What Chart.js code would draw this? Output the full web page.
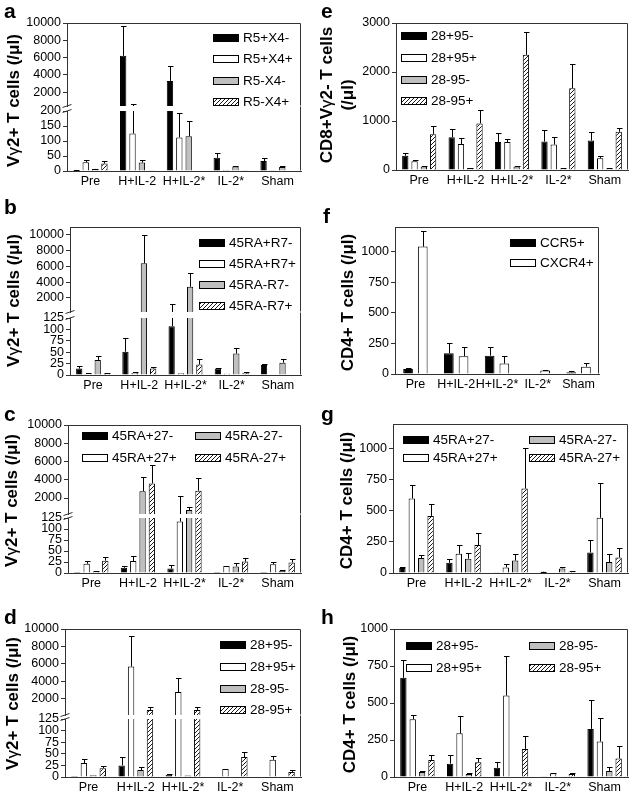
<!DOCTYPE html>
<html>
<head>
<meta charset="utf-8">
<script src="https://cdn.jsdelivr.net/npm/chart.js@4.4.1/dist/chart.umd.min.js"></script>
<style>
body { margin: 0; background: #fff; }
#fig { position: relative; width: 632px; height: 796px; overflow: hidden; font-family: 'Liberation Sans', Arial, sans-serif; }
#fig canvas { position: absolute; left: 0; top: 0; }
.lt { position: absolute; font-weight: bold; font-size: 21px; line-height: 1; }
.yt { position: absolute; width: 240px; text-align: center; font-weight: bold; font-size: 17px; line-height: 21px; transform: rotate(-90deg); white-space: nowrap; }
</style>
</head>
<body>
<div id="fig"></div>
<script>
// categorias comunes a todos los paneles
const categories = ['Pre', 'H+IL-2', 'H+IL-2*', 'IL-2*', 'Sham'];

// ticks
const bigTicks = [2000, 4000, 6000, 8000, 10000];
const aLowTicks = [0, 50, 100, 150, 200];
const lowTicks = [0, 25, 50, 75, 100, 125];
const eTicks = [0, 1000, 2000, 3000];
const cd4Ticks = [0, 250, 500, 750, 1000];

// panel a
const aSeries = ['R5+X4-', 'R5+X4+', 'R5-X4-', 'R5-X4+'];
const aMeans = [[3, 6200, 3300, 44, 33], [29, 125, 112, 3, 1], [7, 28, 116, 15, 13], [25, 1, 2, 1, 0]];
const aErrs = [[1, 3500, 1700, 15, 10], [9, 500, 83, 0, 0], [1, 10, 52, 1, 3], [10, 0, 0, 0, 0]];

// panel b
const bSeries = ['45RA+R7-', '45RA+R7+', '45RA-R7-', '45RA-R7+'];
const bMeans = [[14, 51, 107, 14, 22], [3, 5, 4, 3, 0], [33, 6400, 3400, 47, 27], [4, 14, 23, 5, 0]];
const bErrs = [[5, 30, 1100, 2, 3], [1, 1, 0, 0, 0], [9, 3600, 1800, 12, 9], [1, 4, 13, 1, 0]];

// panel c
const cSeries = ['45RA+27-', '45RA+27+', '45RA-27-', '45RA-27+'];
const cMeans = [[2, 12, 10, 2, 2], [21, 27, 117, 16, 20], [4, 2750, 680, 15, 5], [28, 3600, 2800, 26, 24]];
const cErrs = [[0, 5, 9, 0, 0], [6, 11, 2100, 0, 4], [1, 1500, 350, 7, 1], [9, 2000, 1400, 8, 7]];

// panel d
const dSeries = ['28+95-', '28+95+', '28-95-', '28-95+'];
const dMeans = [[2, 25, 5, 0, 1], [30, 5700, 2800, 17, 37], [4, 15, 3, 0, 1], [19, 750, 750, 43, 11]];
const dErrs = [[0, 18, 1, 0, 0], [8, 3500, 1650, 0, 8], [0, 6, 0, 0, 0], [4, 280, 280, 11, 5]];

// panel e
const eMeans = [[290, 670, 570, 580, 600], [180, 530, 570, 520, 240], [70, 40, 70, 30, 35], [730, 950, 2350, 1670, 780]];
const eErrs = [[55, 160, 180, 240, 170], [20, 120, 70, 150, 40], [15, 5, 20, 5, 5], [160, 270, 460, 490, 80]];

// panel f
const fSeries = ['CCR5+', 'CXCR4+'];
const fMeans = [[40, 170, 150, 5, 15], [1040, 145, 85, 28, 60]];
const fErrs = [[8, 80, 72, 0, 10], [130, 75, 65, 7, 28]];

// panel g
const gMeans = [[40, 82, 3, 10, 165], [600, 155, 45, 2, 445], [120, 115, 100, 37, 88], [460, 225, 680, 12, 125]];
const gErrs = [[10, 30, 0, 2, 100], [110, 70, 25, 0, 280], [25, 50, 50, 15, 62], [95, 95, 330, 2, 75]];

// panel h
const hMeans = [[670, 90, 62, 2, 325], [390, 295, 550, 25, 240], [33, 20, 3, 0, 40], [115, 100, 190, 20, 125]];
const hErrs = [[120, 60, 38, 0, 195], [30, 115, 270, 3, 160], [5, 5, 0, 0, 25], [35, 30, 90, 5, 85]];

const W = 632, H = 796;
const AXIS = '#333';
const XH = 22; // alto del eje x
const fig = document.getElementById('fig');

Chart.defaults.font.family = "'Liberation Sans', Arial, sans-serif";
Chart.defaults.font.size = 12.5;
Chart.defaults.color = '#000';

// rayado diagonal para la 4a serie
function hatch() {
	const c = document.createElement('canvas');
	c.width = 4; c.height = 4;
	const x = c.getContext('2d');
	x.fillStyle = '#fff';
	x.fillRect(0, 0, 4, 4);
	x.strokeStyle = '#000';
	x.lineWidth = 0.9;
	x.beginPath();
	x.moveTo(0, 4); x.lineTo(4, 0);
	x.moveTo(-1, 1); x.lineTo(1, -1);
	x.moveTo(3, 5); x.lineTo(5, 3);
	x.stroke();
	return x.createPattern(c, 'repeat');
}
const fills = ['#000000', '#ffffff', '#bfbfbf', hatch()];

// barras de error (solo hacia arriba, con tope)
const errPlugin = {
	id: 'errBars',
	afterDatasetsDraw(chart) {
		const { ctx, chartArea: a } = chart;
		const ys = chart.scales.y;
		ctx.save();
		ctx.beginPath();
		ctx.rect(a.left, a.top, a.right - a.left, a.bottom - a.top);
		ctx.clip();
		ctx.strokeStyle = '#000';
		ctx.lineWidth = 1;
		chart.data.datasets.forEach((ds, i) => {
			chart.getDatasetMeta(i).data.forEach((bar, j) => {
				const e = ds.errs[j];
				if (!e) return;
				const x = Math.round(bar.x) + 0.5;
				const base = ys.getPixelForValue(ds.data[j]);
				const top = Math.round(ys.getPixelForValue(ds.data[j] + e)) + 0.5;
				ctx.beginPath();
				ctx.moveTo(x, base);
				ctx.lineTo(x, top);
				ctx.moveTo(x - 2.5, top);
				ctx.lineTo(x + 3, top);
				ctx.stroke();
			});
		});
		ctx.restore();
	}
};

// marco superior/derecho y marcas de corte del eje
const framePlugin = {
	id: 'frame',
	afterDraw(chart, args, opts) {
		const { ctx, chartArea: a } = chart;
		const l = Math.round(a.left) + 0.5, r = Math.round(a.right) - 0.5;
		const t = Math.round(a.top) + 0.5, b = Math.round(a.bottom) - 0.5;
		ctx.save();
		ctx.strokeStyle = AXIS;
		ctx.lineWidth = 1;
		ctx.beginPath();
		if (opts.top) { ctx.moveTo(l, t); ctx.lineTo(r, t); }
		ctx.moveTo(r, t - (opts.extendUp || 0));
		ctx.lineTo(r, b);
		if (opts.breakBottom) { ctx.moveTo(l - 5, b + 2); ctx.lineTo(l + 4, b - 1); }
		if (opts.breakTop) { ctx.moveTo(l - 5, t + 1); ctx.lineTo(l + 4, t - 2); }
		ctx.stroke();
		ctx.restore();
	}
};

// leyenda con cajas anchas dentro del area
const legendPlugin = {
	id: 'boxLegend',
	afterDraw(chart, args, opts) {
		if (!opts.items) return;
		const ctx = chart.ctx;
		ctx.save();
		ctx.font = "13.5px 'Liberation Sans', Arial, sans-serif";
		ctx.textBaseline = 'middle';
		opts.items.forEach((p, i) => {
			const ds = chart.data.datasets[i];
			const y = Math.round(p[1] - 3.5);
			ctx.fillStyle = ds.backgroundColor;
			ctx.fillRect(p[0], y, 26, 7);
			ctx.strokeStyle = '#000';
			ctx.lineWidth = 1;
			ctx.strokeRect(p[0] + 0.5, y + 0.5, 25, 7);
			ctx.fillStyle = '#000';
			ctx.fillText(ds.label, p[0] + 30, p[1] + 1);
		});
		ctx.restore();
	}
};

function addCanvas() {
	const c = document.createElement('canvas');
	c.width = W; c.height = H;
	fig.appendChild(c);
	return c;
}

function makeChart(box, yMin, yMax, ticks, series, means, errs, opt) {
	const datasets = series.map((name, i) => ({
		label: name,
		data: means[i],
		errs: errs[i],
		backgroundColor: fills[i],
		borderColor: '#000',
		borderWidth: 1,
		clip: 0
	}));
	return new Chart(addCanvas(), {
		type: 'bar',
		data: { labels: categories, datasets: datasets },
		options: {
			responsive: false,
			animation: false,
			devicePixelRatio: 1,
			events: [],
			categoryPercentage: opt.catPct || 0.8,
			barPercentage: opt.barPct || 0.68,
			layout: {
				padding: {
					left: box.L - 50,
					right: W - box.R,
					top: box.T,
					bottom: opt.xAxis ? H - box.B - XH : H - box.B
				}
			},
			scales: {
				x: {
					display: !!opt.xAxis,
					grid: { display: false, drawTicks: false },
					border: { display: true, color: AXIS, width: 1 },
					ticks: { padding: 3, maxRotation: 0, autoSkip: false, color: '#000' },
					afterFit: s => { if (opt.xAxis) s.height = XH; }
				},
				y: {
					min: yMin,
					max: yMax,
					afterFit: s => { s.width = 50; },
					afterBuildTicks: s => { s.ticks = ticks.map(v => ({ value: v })); },
					ticks: { callback: v => String(v), padding: 2, color: '#000', autoSkip: false },
					grid: { display: true, drawOnChartArea: false, drawTicks: true, tickLength: 4, color: AXIS },
					border: { display: true, color: AXIS, width: 1 }
				}
			},
			plugins: {
				legend: { display: false },
				tooltip: { enabled: false },
				frame: { top: !!opt.top, extendUp: opt.extendUp || 0, breakTop: !!opt.breakTop, breakBottom: !!opt.breakBottom },
				boxLegend: { items: opt.legend || null }
			}
		},
		plugins: [errPlugin, framePlugin, legendPlugin]
	});
}

// panel con eje cortado: dos graficos, arriba y abajo
function brokenPanel(p, series, means, errs, upTicks, lowTicks2) {
	makeChart({ L: p.L, R: p.R, T: p.T, B: p.ub }, p.upMin, p.upMax, upTicks, series, means, errs,
		{ xAxis: false, top: true, breakBottom: true, legend: p.legend });
	makeChart({ L: p.L, R: p.R, T: p.lt, B: p.B }, 0, p.lowMax, lowTicks2, series, means, errs,
		{ xAxis: true, breakTop: true, extendUp: p.lt - p.ub });
}

function plainPanel(p, series, means, errs, ticks) {
	makeChart({ L: p.L, R: p.R, T: p.T, B: p.B }, 0, p.max, ticks, series, means, errs,
		{ xAxis: true, top: true, legend: p.legend, catPct: p.catPct, barPct: p.barPct });
}

function text(cls, html, left, top) {
	const d = document.createElement('div');
	d.className = cls;
	d.innerHTML = html;
	d.style.left = left + 'px';
	d.style.top = top + 'px';
	fig.appendChild(d);
}

function yTitle(html, cx, cy, lines) {
	const h = 21 * (lines || 1);
	text('yt', html, cx - 120, cy - h / 2);
}

brokenPanel({ L: 67, R: 301, T: 23, ub: 106, lt: 111, B: 171, upMin: 400, upMax: 10000, lowMax: 200,
	legend: [[213, 37], [213, 58], [213, 80], [213, 101]] }, aSeries, aMeans, aErrs, bigTicks, aLowTicks);
brokenPanel({ L: 70, R: 301, T: 227, ub: 312, lt: 318, B: 375, upMin: 200, upMax: 11000, lowMax: 125,
	legend: [[199, 242], [199, 263], [199, 284], [199, 305]] }, bSeries, bMeans, bErrs, bigTicks, lowTicks);
brokenPanel({ L: 68, R: 301, T: 425, ub: 514, lt: 518, B: 573, upMin: 250, upMax: 10000, lowMax: 125,
	legend: [[82, 435], [82, 457], [195, 435], [195, 457]] }, cSeries, cMeans, cErrs, bigTicks, lowTicks);
brokenPanel({ L: 65, R: 301, T: 629, ub: 715, lt: 719, B: 777, upMin: 170, upMax: 10000, lowMax: 125,
	legend: [[220, 644], [220, 666], [220, 688], [220, 709]] }, dSeries, dMeans, dErrs, bigTicks, lowTicks);

plainPanel({ L: 396, R: 628, T: 23, B: 170, max: 3000,
	legend: [[401, 35], [401, 57], [401, 79], [401, 100]] }, dSeries, eMeans, eErrs, eTicks);
plainPanel({ L: 395, R: 599, T: 227, B: 374, max: 1200, catPct: 0.72, barPct: 0.66,
	legend: [[510, 242], [510, 262]] }, fSeries, fMeans, fErrs, cd4Ticks);
plainPanel({ L: 393, R: 628, T: 424, B: 573, max: 1200,
	legend: [[403, 439], [403, 457], [529, 439], [529, 457]] }, cSeries, gMeans, gErrs, cd4Ticks);
plainPanel({ L: 394, R: 628, T: 629, B: 777, max: 1000,
	legend: [[406, 645], [406, 667], [529, 645], [529, 667]] }, dSeries, hMeans, hErrs, cd4Ticks);

// letras de panel
[['a', 4, 0], ['b', 4, 196], ['c', 4, 403], ['d', 4, 606], ['e', 321, 0], ['f', 323, 205], ['g', 321, 403], ['h', 321, 606]]
	.forEach(l => text('lt', l[0], l[1], l[2]));

// titulos de eje y
const vg = 'V<span style="font-weight:normal">γ</span>2+ T cells (/μl)';
yTitle(vg, 13, 100);
yTitle(vg, 13, 300);
yTitle(vg, 11, 500);
yTitle(vg, 12, 703);
yTitle('CD8+V<span style="font-weight:normal">γ</span>2- T cells<br>(/μl)', 337, 95, 2);
yTitle('CD4+ T cells (/μl)', 347, 302);
yTitle('CD4+ T cells (/μl)', 346, 500);
yTitle('CD4+ T cells (/μl)', 349, 704);
</script>
</body>
</html>
